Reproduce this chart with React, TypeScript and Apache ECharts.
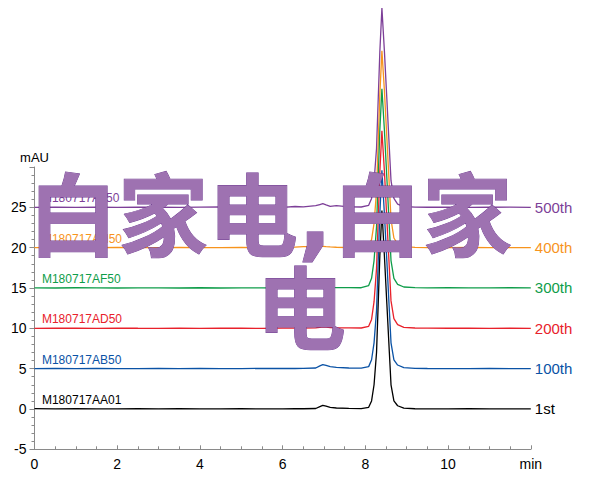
import React, { useEffect, useRef } from "react";
import * as echarts from "echarts";

// Retention time (min), shared by all traces
const times = [0, 0.5, 1, 1.5, 2, 2.5, 3, 3.5, 4, 4.5, 5, 5.5, 6, 6.3, 6.5, 6.8, 6.9, 6.97, 7.05, 7.15, 7.3, 7.6, 7.9, 8.08, 8.15, 8.21, 8.27, 8.31, 8.35, 8.4, 8.46, 8.52, 8.58, 8.62, 8.69, 8.78, 8.93, 9.2, 9.5, 10, 10.5, 11, 11.5, 12];

// Absorbance signals (mAU), before stacking offset
const sig1st = [0.05, 0, 0.05, 0.02, 0, 0.03, 0, 0.04, 0, 0.02, 0.03, 0, 0.02, 0.03, 0.03, 0.06, 0.3, 0.45, 0.35, 0.2, 0.12, 0.07, 0.05, 0.2, 1, 3, 7, 13, 19, 24.6, 19, 13, 7, 3, 1, 0.4, 0.1, 0.03, 0.02, 0, 0.03, 0.01, 0.02, 0];
const sig100th = [0, 0.03, 0, 0.02, 0.01, 0, 0.03, 0, 0.02, 0.01, 0, 0.03, 0.02, 0.02, 0.04, 0.08, 0.35, 0.5, 0.4, 0.25, 0.15, 0.08, 0.06, 0.25, 1.1, 3.2, 7.2, 13.2, 19.2, 24.6, 19.2, 13.3, 7.2, 3.2, 1.1, 0.45, 0.12, 0.04, 0.02, 0.01, 0, 0.02, 0, 0];
const sig200th = [0, 0.02, 0.01, 0, 0.03, 0.01, 0, 0.02, 0, 0.03, 0.01, 0, 0.02, 0.02, 0.03, 0.05, 0.12, 0.18, 0.14, 0.1, 0.07, 0.05, 0.04, 0.25, 1.1, 3.3, 7.4, 13.4, 19.4, 24.5, 19.5, 13.5, 7.4, 3.4, 1.2, 0.45, 0.12, 0.04, 0.02, 0.01, 0.02, 0, 0.01, 0];
const sig300th = [0.02, 0, 0.03, 0.01, 0, 0.02, 0.01, 0, 0.03, 0, 0.02, 0.01, 0, 0.02, 0.02, 0.04, 0.08, 0.12, 0.1, 0.07, 0.05, 0.04, 0.03, 0.3, 1.2, 3.4, 7.6, 13.6, 19.6, 24.7, 19.6, 13.6, 7.5, 3.4, 1.2, 0.45, 0.12, 0.04, 0.02, 0.03, 0.01, 0.02, 0.03, 0.02];
const sig400th = [0, 0.02, 0, 0.01, 0.02, 0, 0.01, 0.02, 0, 0.01, 0.03, 0.01, 0.02, 0.06, 0.12, 0.14, 0.16, 0.15, 0.12, 0.09, 0.05, 0.02, 0, 0.2, 1, 3, 7, 13, 19, 24.4, 19.5, 13.6, 7.6, 3.5, 1.2, 0.45, 0.12, 0.03, 0.01, 0, 0.02, 0.01, 0, 0];
const sig500th = [0, 0.02, 0, 0.03, 0, 0.02, 0.01, 0, 0.02, 0.04, 0.01, 0.02, 0, 0.1, 0.05, 0.2, 0.35, 0.45, 0.3, 0.12, 0.2, 0.06, 0.04, 0.25, 1.1, 3.2, 7.3, 13.3, 19.3, 24.7, 19.4, 13.4, 7.3, 3.3, 1.1, 0.4, 0.1, 0.03, 0.01, 0.02, 0, 0.01, 0.02, 0];

const traceNames = ["1st", "100th", "200th", "300th", "400th", "500th"];
const sampleIds = ["M180717AA01", "M180717AB50", "M180717AD50", "M180717AF50", "M180717AH50", "M180717AJ50"];
const offsets = [0, 5, 10, 15, 20, 25];
const colors = ["#000000", "#0a52a5", "#e8212b", "#0f9d4a", "#f7941d", "#7d3f98"];
const signals = [sig1st, sig100th, sig200th, sig300th, sig400th, sig500th];

const xTicks = [0, 2, 4, 6, 8, 10, 12];
const yTicks = [-5, 0, 5, 10, 15, 20, 25, 30];

const watermarkLines = ["白家电,白家", "电"];

const FONT = "'Liberation Sans', Arial, Helvetica, sans-serif";

export default function App() {
  const ref = useRef<HTMLDivElement>(null);
  useEffect(() => {
    if (!ref.current) return;
    const chart = echarts.init(ref.current, null, { renderer: "svg" });
    const series = signals
      .map((sig, i) => ({
        name: traceNames[i],
        type: "line",
        data: sig.map((v, j) => [times[j], v + offsets[i]]),
        showSymbol: false,
        symbol: "none",
        clip: false,
        z: 2 + (5 - i),
        lineStyle: { color: colors[i], width: 1.3 },
        itemStyle: { color: colors[i] },
        endLabel: {
          show: true,
          formatter: traceNames[i],
          color: colors[i],
          fontSize: 15,
          fontFamily: FONT,
          distance: 4,
        },
      }))
      .reverse();

    chart.setOption({
      animation: false,
      backgroundColor: "#ffffff",
      grid: { left: 34.5, top: 167, right: 69.2, bottom: 54.7, containLabel: false },
      xAxis: {
        type: "value",
        min: xTicks[0],
        max: xTicks[xTicks.length - 1],
        interval: 2,
        axisLine: { show: true, onZero: false, lineStyle: { color: "#8a8a8a", width: 1 } },
        axisTick: { show: true, inside: true, length: 4, lineStyle: { color: "#8a8a8a" } },
        minorTick: { show: true, splitNumber: 4, length: 3, lineStyle: { color: "#8a8a8a" } },
        splitLine: { show: false },
        axisLabel: {
          color: "#000",
          fontSize: 14,
          fontFamily: FONT,
          margin: 8,
          formatter: (v: number) => (v === 12 ? "min" : String(v)),
        },
      },
      yAxis: {
        type: "value",
        min: yTicks[0],
        max: yTicks[yTicks.length - 1],
        interval: 5,
        name: "mAU",
        nameLocation: "end",
        nameGap: 3,
        nameTextStyle: { color: "#000", fontSize: 13, fontFamily: FONT, align: "center", verticalAlign: "bottom" },
        axisLine: { show: true, onZero: false, lineStyle: { color: "#8a8a8a", width: 1 } },
        axisTick: { show: true, inside: false, length: 5, lineStyle: { color: "#8a8a8a" } },
        minorTick: { show: true, splitNumber: 5, length: 3, lineStyle: { color: "#8a8a8a" } },
        splitLine: { show: false },
        axisLabel: {
          color: "#000",
          fontSize: 14,
          fontFamily: FONT,
          margin: 8,
          formatter: (v: number) => (v === 30 ? "" : String(v)),
        },
      },
      series,
    });

    const labels = sampleIds.map((id, i) => {
      const p = chart.convertToPixel({ gridIndex: 0 }, [0.18, offsets[i]]) as number[];
      return {
        type: "text",
        x: p[0],
        y: p[1] - 9,
        z: 10,
        style: {
          text: id,
          fill: colors[i],
          fontSize: 12,
          fontFamily: FONT,
          textAlign: "left",
          textVerticalAlign: "middle",
        },
      };
    });

    const wm = {
      fill: "#9e72b1",
      stroke: "#6e3b90",
      lineWidth: 0.8,
      fontSize: 90,
      fontWeight: "bold",
      fontFamily: "'DejaVu Sans', 'Noto Sans CJK SC', sans-serif",
      textAlign: "left",
      textVerticalAlign: "top",
    };

    chart.setOption({
      graphic: [
        ...labels,
        { type: "text", x: 28, y: 172, z: 100, style: { ...wm, text: watermarkLines[0] } },
        { type: "text", x: 256, y: 265, z: 100, style: { ...wm, text: watermarkLines[1] } },
      ],
    });

    return () => chart.dispose();
  }, []);
  return (
    <div
      ref={ref}
      style={{ position: "fixed", left: 0, top: 0, width: 600, height: 504 }}
    />
  );
}
